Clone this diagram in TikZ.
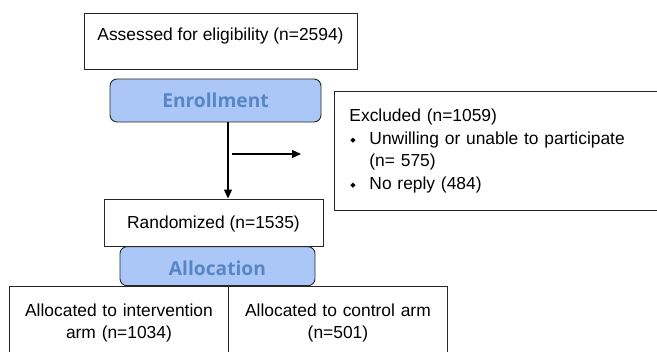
\documentclass[tikz,border=0pt]{standalone}
\usepackage{fontspec}
\setmainfont{Liberation Sans}
\newfontfamily\headfont{Open Sans}
\newfontfamily\symfont{DejaVu Sans}
\usetikzlibrary{arrows.meta}
\definecolor{phasefill}{RGB}{170,199,248}
\definecolor{phasetext}{RGB}{88,134,196}
% small diamond bullet followed by the hanging indent
\newcommand{\bul}{\makebox[20pt][l]{\hspace{1pt}\raisebox{1.5pt}{\symfont\fontsize{7}{7}\selectfont ◆}}}
\begin{document}
\begin{tikzpicture}[x=1pt,y=1pt,
  box/.style={draw=black!85, line width=0.9pt, font=\fontsize{17.4}{22}\selectfont, inner sep=0pt},
  phase/.style={draw=black!85, line width=0.9pt, rounded corners=7pt, fill=phasefill,
    text=phasetext, font=\headfont\bfseries\fontsize{19.2}{20}\selectfont, inner sep=0pt},
  arr/.style={line width=1.1pt, -{Triangle[length=9pt,width=8pt]}}]
\useasboundingbox (0,0) rectangle (657,-352);
\clip (0,0) rectangle (657,-352);

\node[box, minimum width=273, minimum height=56, text height=12.4, text depth=12.4]
  (assess) at (220.5,-41) {Assessed for eligibility (n=2594)};
\node[phase, minimum width=211, minimum height=43, text height=13.5, text depth=0]
  (enroll) at (215.5,-100.5) {Enrollment};
\node[box, anchor=north west, text width=303, align=left, inner xsep=15, inner ysep=17.5,
  font=\fontsize{17.4}{22.5}\selectfont]
  (excl) at (334,-91) {Excluded (n=1059)\\
  \bul Unwilling or unable to participate\\
  \hspace*{20pt}(n= 575)\\
  \bul No reply (484)};
\node[box, minimum width=219, minimum height=47, text height=12.4, text depth=0]
  (random) at (213.5,-222.5) {Randomized (n=1535)};
\node[phase, minimum width=195, minimum height=39, text height=18, text depth=0]
  (alloc) at (217.5,-266.2) {Allocation};
\node[box, anchor=north west, text width=219, align=center, inner ysep=17.1]
  (armi) at (9,-286) {Allocated to intervention\\arm (n=1034)};
\node[box, anchor=north west, text width=219, align=center, inner ysep=17.1]
  (armc) at (228,-286) {Allocated to control arm\\(n=501)};

\coordinate (trunk) at (228,0);
\draw[arr] (enroll.south -| trunk) -- (random.north -| trunk);
\coordinate (hstart) at (232,-154);
\coordinate (hend) at (301,-154);
\draw[arr] (hstart) -- (hend);
\end{tikzpicture}
\end{document}
